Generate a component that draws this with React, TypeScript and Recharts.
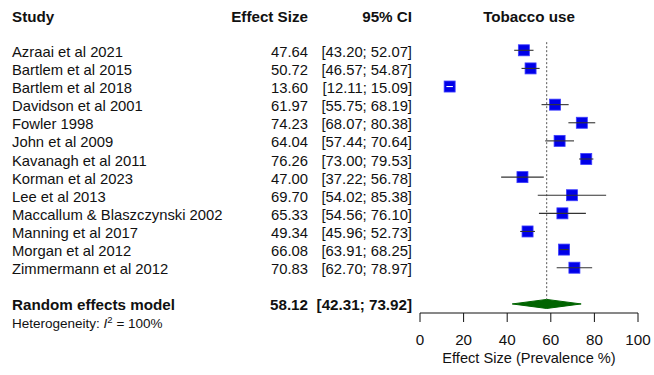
import React from "react";
import {
  ScatterChart,
  Scatter,
  XAxis,
  YAxis,
  ReferenceLine,
  ReferenceArea,
  Label,
} from "recharts";

const studies = [
  "Azraai et al 2021",
  "Bartlem et al 2015",
  "Bartlem et al 2018",
  "Davidson et al 2001",
  "Fowler 1998",
  "John et al 2009",
  "Kavanagh et al 2011",
  "Korman et al 2023",
  "Lee et al 2013",
  "Maccallum & Blaszczynski 2002",
  "Manning et al 2017",
  "Morgan et al 2012",
  "Zimmermann et al 2012",
];
const effects = [47.64, 50.72, 13.6, 61.97, 74.23, 64.04, 76.26, 47.0, 69.7, 65.33, 49.34, 66.08, 70.83];
const ciLower = [43.2, 46.57, 12.11, 55.75, 68.07, 57.44, 73.0, 37.22, 54.02, 54.56, 45.96, 63.91, 62.7];
const ciUpper = [52.07, 54.87, 15.09, 68.19, 80.38, 70.64, 79.53, 56.78, 85.38, 76.1, 52.73, 68.25, 78.97];

const pooledEffect = 58.12;
const pooledLower = 42.31;
const pooledUpper = 73.92;
const heterogeneityI2 = "100%";

const xTicks = [0, 20, 40, 60, 80, 100];
const HEADER_ROW = -1.94;
const POOLED_ROW = 14;

const rows = studies.map((s, i) => ({
  name: s,
  x: effects[i],
  y: i,
  lo: ciLower[i],
  hi: ciUpper[i],
}));

const FONT = "'Liberation Sans', Arial, Helvetica, sans-serif";
const TXT = "#111";
const fmt = (v: number) => v.toFixed(2);
const ciText = (lo: number, hi: number) => `[${fmt(lo)}; ${fmt(hi)}]`;

const COL_NAME = 12;
const COL_EFF = 308;
const COL_CI = 412;
const COL_PLOT_MID = 529;
const FS = 14.8;
const FSB = 15.2;

const RowTick = (props: any) => {
  const { y, payload } = props;
  const v = payload.value;
  const base = y + 6.5;
  if (v < -1) {
    return (
      <g fontFamily={FONT} fontSize={FSB} fontWeight="bold" fill={TXT}>
        <text x={COL_NAME} y={base}>Study</text>
        <text x={COL_EFF} y={base} textAnchor="end">Effect Size</text>
        <text x={COL_CI} y={base} textAnchor="end">95% CI</text>
        <text x={COL_PLOT_MID} y={base} textAnchor="middle">Tobacco use</text>
      </g>
    );
  }
  if (v === POOLED_ROW) {
    return (
      <g fontFamily={FONT} fill={TXT}>
        <text x={COL_NAME} y={base} fontSize={FSB} fontWeight="bold">Random effects model</text>
        <text x={COL_EFF} y={base} fontSize={FSB} fontWeight="bold" textAnchor="end">{fmt(pooledEffect)}</text>
        <text x={COL_CI} y={base} fontSize={FSB} fontWeight="bold" textAnchor="end">{ciText(pooledLower, pooledUpper)}</text>
        <text x={COL_NAME} y={base + 18} fontSize={13.5}>
          Heterogeneity: <tspan fontStyle="italic">I</tspan>
          <tspan fontSize={9.5} dy={-5.5}>2</tspan>
          <tspan dy={5.5}> = {heterogeneityI2}</tspan>
        </text>
      </g>
    );
  }
  const r = rows[v];
  if (!r) return null;
  return (
    <g fontFamily={FONT} fontSize={FS} fill={TXT}>
      <text x={COL_NAME} y={base}>{r.name}</text>
      <text x={COL_EFF} y={base} textAnchor="end">{fmt(r.x)}</text>
      <text x={COL_CI} y={base} textAnchor="end">{ciText(r.lo, r.hi)}</text>
    </g>
  );
};

const XTick = (props: any) => {
  const { x, y, payload } = props;
  return (
    <text x={x} y={y + 20.8} textAnchor="middle" fontFamily={FONT} fontSize={15.2} fill={TXT}>
      {payload.value}
    </text>
  );
};

const AxisTitle = (props: any) => {
  const vb = props.viewBox || {};
  return (
    <text
      x={vb.x + vb.width / 2}
      y={vb.y + 49.5}
      textAnchor="middle"
      fontFamily={FONT}
      fontSize={14.6}
      fill={TXT}
    >
      Effect Size (Prevalence %)
    </text>
  );
};

const BOX = 11;
const Square = (props: any) => {
  const { cx, cy } = props;
  return (
    <rect
      x={cx - BOX / 2}
      y={cy - BOX / 2}
      width={BOX}
      height={BOX}
      fill="#0000e8"
      stroke="#3c3cff"
      strokeWidth={0.8}
    />
  );
};

const NoPoint = () => <g />;

const Diamond = (props: any) => {
  const { x, y, width, height } = props;
  const my = y + height / 2;
  const pts = `${x},${my} ${x + width / 2},${y} ${x + width},${my} ${x + width / 2},${y + height}`;
  return <polygon points={pts} fill="#006400" stroke="#006400" strokeWidth={1} />;
};

export default function App() {
  const yTicks = [HEADER_ROW, ...rows.map((r) => r.y), POOLED_ROW];
  return (
    <div style={{ position: "absolute", left: 0, top: 0, width: 654, height: 375, background: "#fff" }}>
      <ScatterChart width={654} height={375} margin={{ top: 5, right: 16, bottom: 12, left: 12 }}>
        <XAxis
          type="number"
          dataKey="x"
          domain={[0, 100]}
          ticks={xTicks}
          interval={0}
          tickSize={9}
          stroke="#111"
          height={50}
          tick={<XTick />}
          allowDataOverflow
        >
          <Label content={<AxisTitle />} />
        </XAxis>
        <YAxis
          type="number"
          dataKey="y"
          domain={[-2.5, 14.5]}
          reversed
          ticks={yTicks}
          interval={0}
          width={408}
          axisLine={false}
          tickLine={false}
          tick={<RowTick />}
          allowDataOverflow
        />
        <ReferenceLine
          segment={[
            { x: pooledEffect, y: -0.45 },
            { x: pooledEffect, y: 13.72 },
          ]}
          stroke="#555"
          strokeDasharray="2 2"
          strokeWidth={1}
        />
        <ReferenceArea
          x1={pooledLower}
          x2={pooledUpper}
          y1={POOLED_ROW - 0.25}
          y2={POOLED_ROW + 0.25}
          shape={<Diamond />}
          ifOverflow="visible"
        />
        <Scatter data={rows} shape={<Square />} isAnimationActive={false} />
        {rows.map((r) => (
          <Scatter
            key={r.name}
            data={[
              { x: r.lo, y: r.y },
              { x: r.hi, y: r.y },
            ]}
            line={{ stroke: r.hi - r.lo < 3.5 ? "#ffffff" : "#333", strokeWidth: 1.1 }}
            lineType="joint"
            shape={<NoPoint />}
            isAnimationActive={false}
          />
        ))}
      </ScatterChart>
    </div>
  );
}
